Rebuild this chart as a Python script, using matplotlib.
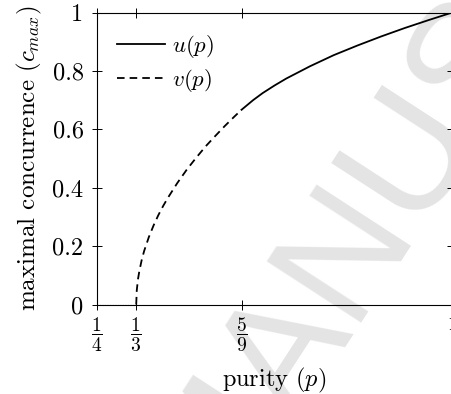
import matplotlib
matplotlib.use("Agg")
from matplotlib import pyplot as plt

plt.rcParams['font.family'] = 'serif'
plt.rcParams['font.serif'] = ['cmr10']
plt.rcParams['mathtext.fontset'] = 'cm'
plt.rcParams['axes.unicode_minus'] = False

# values
p_zero = [0.25, 1/3]
c_zero = [0.0, 0.0]

p_v = [1/3, 0.3345, 0.337, 0.34, 0.345, 0.35, 0.36, 0.37, 0.38, 0.39, 0.40,
       0.42, 0.44, 0.46, 0.48, 0.50, 0.52, 0.54, 5/9]
c_v = [0.0, 0.048, 0.086, 0.115, 0.153, 0.183, 0.231, 0.271, 0.306, 0.337, 0.365,
       0.416, 0.462, 0.503, 0.542, 0.577, 0.611, 0.643, 0.667]

p_u = [5/9, 0.56, 0.58, 0.60, 0.625, 0.65, 0.70, 0.75, 0.80, 0.85, 0.90, 0.95, 1.0]
c_u = [0.667, 0.673, 0.700, 0.724, 0.750, 0.774, 0.816, 0.854, 0.887, 0.918,
       0.947, 0.974, 1.0]

x_ticks = [1/4, 1/3, 5/9, 1]
x_labels = [r'$\dfrac{1}{4}$', r'$\dfrac{1}{3}$', r'$\dfrac{5}{9}$', r'$1$']
y_ticks = [0, 0.2, 0.4, 0.6, 0.8, 1]
y_labels = ['0', '0.2', '0.4', '0.6', '0.8', '1']

fig = plt.figure(figsize=(4.52, 3.94), dpi=100)

# faint watermark behind the plot
fig.text(180/452, 1 - 505/394, "MANUSCRIPT", fontsize=118, family='Liberation Sans',
         color='#e4e4e4', rotation=57, rotation_mode='anchor',
         ha='left', va='center', zorder=-10)

ax = fig.add_axes([96.7/452, 1 - 304.5/394, 355.6/452, 292/394])
ax.patch.set_alpha(0)

ax.plot(p_u, c_u, color='black', lw=1.3, label=r'$u(p)$')
ax.plot(p_v, c_v, color='black', lw=1.3, dashes=(4.2, 2.8), label=r'$v(p)$')
ax.plot(p_zero, c_zero, color='black', lw=0.8, dashes=(0.8, 1.5))

ax.set_xlim(0.25, 1)
ax.set_ylim(0, 1)
ax.set_xticks(x_ticks)
ax.set_xticklabels(x_labels, fontsize=14)
ax.set_yticks(y_ticks)
ax.set_yticklabels(y_labels, fontsize=17.5)
ax.tick_params(direction='inout', length=7, width=0.7, top=True, right=True)
ax.tick_params(axis='y', pad=6)
ax.tick_params(axis='x', pad=5)
for s in ax.spines.values():
    s.set_linewidth(0.8)

ax.set_xlabel(r'purity $(p)$', fontsize=17.5, labelpad=8)
ax.set_ylabel(r'maximal concurrence $(c_{max})$', fontsize=18, labelpad=6)

ax.legend(loc='upper left', frameon=False, fontsize=16.5, handlelength=2.1,
          handletextpad=0.3, borderaxespad=0.5, labelspacing=0.3)

fig.savefig("out.png", dpi=100)
